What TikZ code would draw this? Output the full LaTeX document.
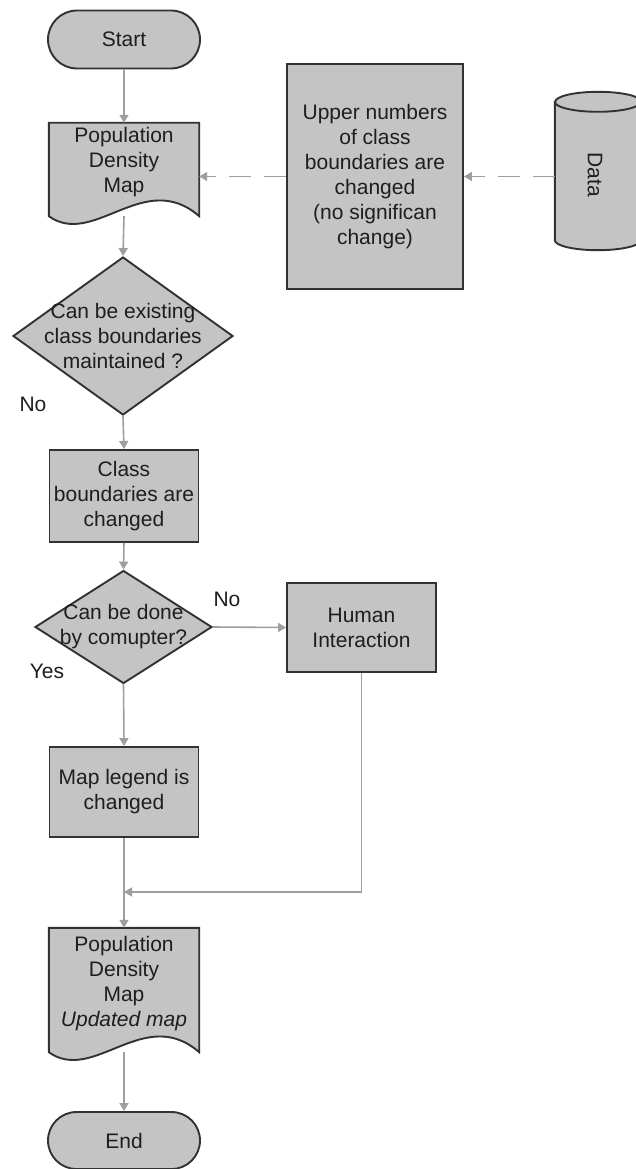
\documentclass[tikz,border=0pt]{standalone}
\usepackage{fontspec}
\setmainfont{Liberation Sans}
\usetikzlibrary{shapes.geometric,shapes.misc,arrows.meta,calc}
\definecolor{boxfill}{RGB}{196,196,196}
\definecolor{boxline}{RGB}{50,50,50}
\definecolor{conn}{RGB}{158,158,158}
\definecolor{txt}{RGB}{30,30,30}
\begin{document}
\begin{tikzpicture}[x=1pt,y=-1pt,
 every node/.style={font=\fontsize{21}{25}\selectfont, text=txt},
 shapebox/.style={draw=boxline, line width=1.9pt, fill=boxfill, inner sep=0pt, align=center},
 procbox/.style={shapebox, rectangle, minimum width=149pt, minimum height=92pt},
 termbox/.style={shapebox, rounded rectangle, minimum width=152pt, minimum height=58pt},
 decbox/.style={shapebox, diamond},
 area/.style={draw=none, inner sep=0pt},
 flow/.style={draw=conn, line width=1.6pt, -{Triangle[width=9pt,length=8pt]}},
 dashflow/.style={flow, dash pattern=on 22pt off 13pt},
 lbl/.style={align=center}
]
\useasboundingbox (0,0) rectangle (635,1169);

% Start
\node[termbox] (start) at (124,39.5) {Start};

% Document 1
\node[area, minimum width=150pt, minimum height=93pt] (doc1) at (124,169.5) {};
\path[shapebox] (doc1.north west) -- (doc1.north east) -- (doc1.south east)
  .. controls ($(doc1.south east)+(-55,-48)$) and ($(doc1.south west)+(45,32)$) .. (doc1.south west) -- cycle;
\node[lbl] (doc1text) at ($(doc1.center)+(0,-7)$) {Population\\Density\\Map};

% Upper box
\node[procbox, minimum width=176pt, minimum height=225pt] (upper) at (375,176.5)
  {Upper numbers\\of class\\boundaries are\\changed\\(no significan\\change)};

% Data cylinder (cut at the right edge)
\node[area, minimum width=86pt, minimum height=158pt] (data) at (598,171) {};
\path[shapebox] ($(data.north west)+(0,10)$) -- ($(data.south west)+(0,-10)$)
  arc(180:0:43 and 10) -- ($(data.north east)+(0,10)$) arc(0:-180:43 and 10) -- cycle;
\draw[draw=boxline, line width=1.9pt] ($(data.north west)+(0,10)$) arc(180:0:43 and 10);
\node[rotate=-90] (datatext) at ($(data.center)+(-3,4)$) {Data};

% Decision 1
\node[decbox, minimum width=220pt, minimum height=158pt,
  label={[lbl]center:{Can be existing\\class boundaries\\maintained ?}}] (d1) at (123,336) {};
\node (no1) at (33,404) {No};

% Class boundaries changed
\node[procbox] (classbox) at (124,496) {Class\\boundaries are\\changed};

% Decision 2
\node[decbox, minimum width=177pt, minimum height=113pt,
  label={[lbl]center:{Can be done\\by comupter?}}] (d2) at (123.5,627) {};
\node (no2) at (227,599) {No};
\node (yes) at (47,671) {Yes};

% Human interaction
\node[procbox, minimum height=89pt] (human) at (361.5,627.5) {Human\\Interaction};

% Map legend
\node[procbox, minimum height=90pt] (legend) at (124,792) {Map legend is\\changed};

% Document 2
\node[area, minimum width=150pt, minimum height=124pt] (doc2) at (124,990) {};
\path[shapebox] (doc2.north west) -- (doc2.north east) -- (doc2.south east)
  .. controls ($(doc2.south east)+(-55,-48)$) and ($(doc2.south west)+(45,32)$) .. (doc2.south west) -- cycle;
\node[lbl] (doc2text) at ($(doc2.center)+(0,-6)$) {Population\\Density\\Map\\\textit{Updated map}};

% End
\node[termbox, minimum height=57pt] (endt) at (124,1140.5) {End};

\coordinate (merge) at (124,892);

% Connectors
\draw[flow] (start) -- (doc1);
\draw[flow] (doc1.south) -- (d1.north);
\draw[flow] (d1.south) -- (classbox.north);
\draw[flow] (classbox.south) -- (d2.north);
\draw[flow] (d2.east) -- (human.west);
\draw[flow] (d2.south) -- (legend.north);
\draw[flow] (legend.south) -- (doc2.north);
\draw[flow] (human.south) |- (merge);
\draw[flow] (doc2.south) -- (endt.north);
\draw[dashflow] (upper.west) -- (doc1.east |- upper.west);
\draw[dashflow] (data.west |- upper.east) -- (upper.east);
\end{tikzpicture}
\end{document}
